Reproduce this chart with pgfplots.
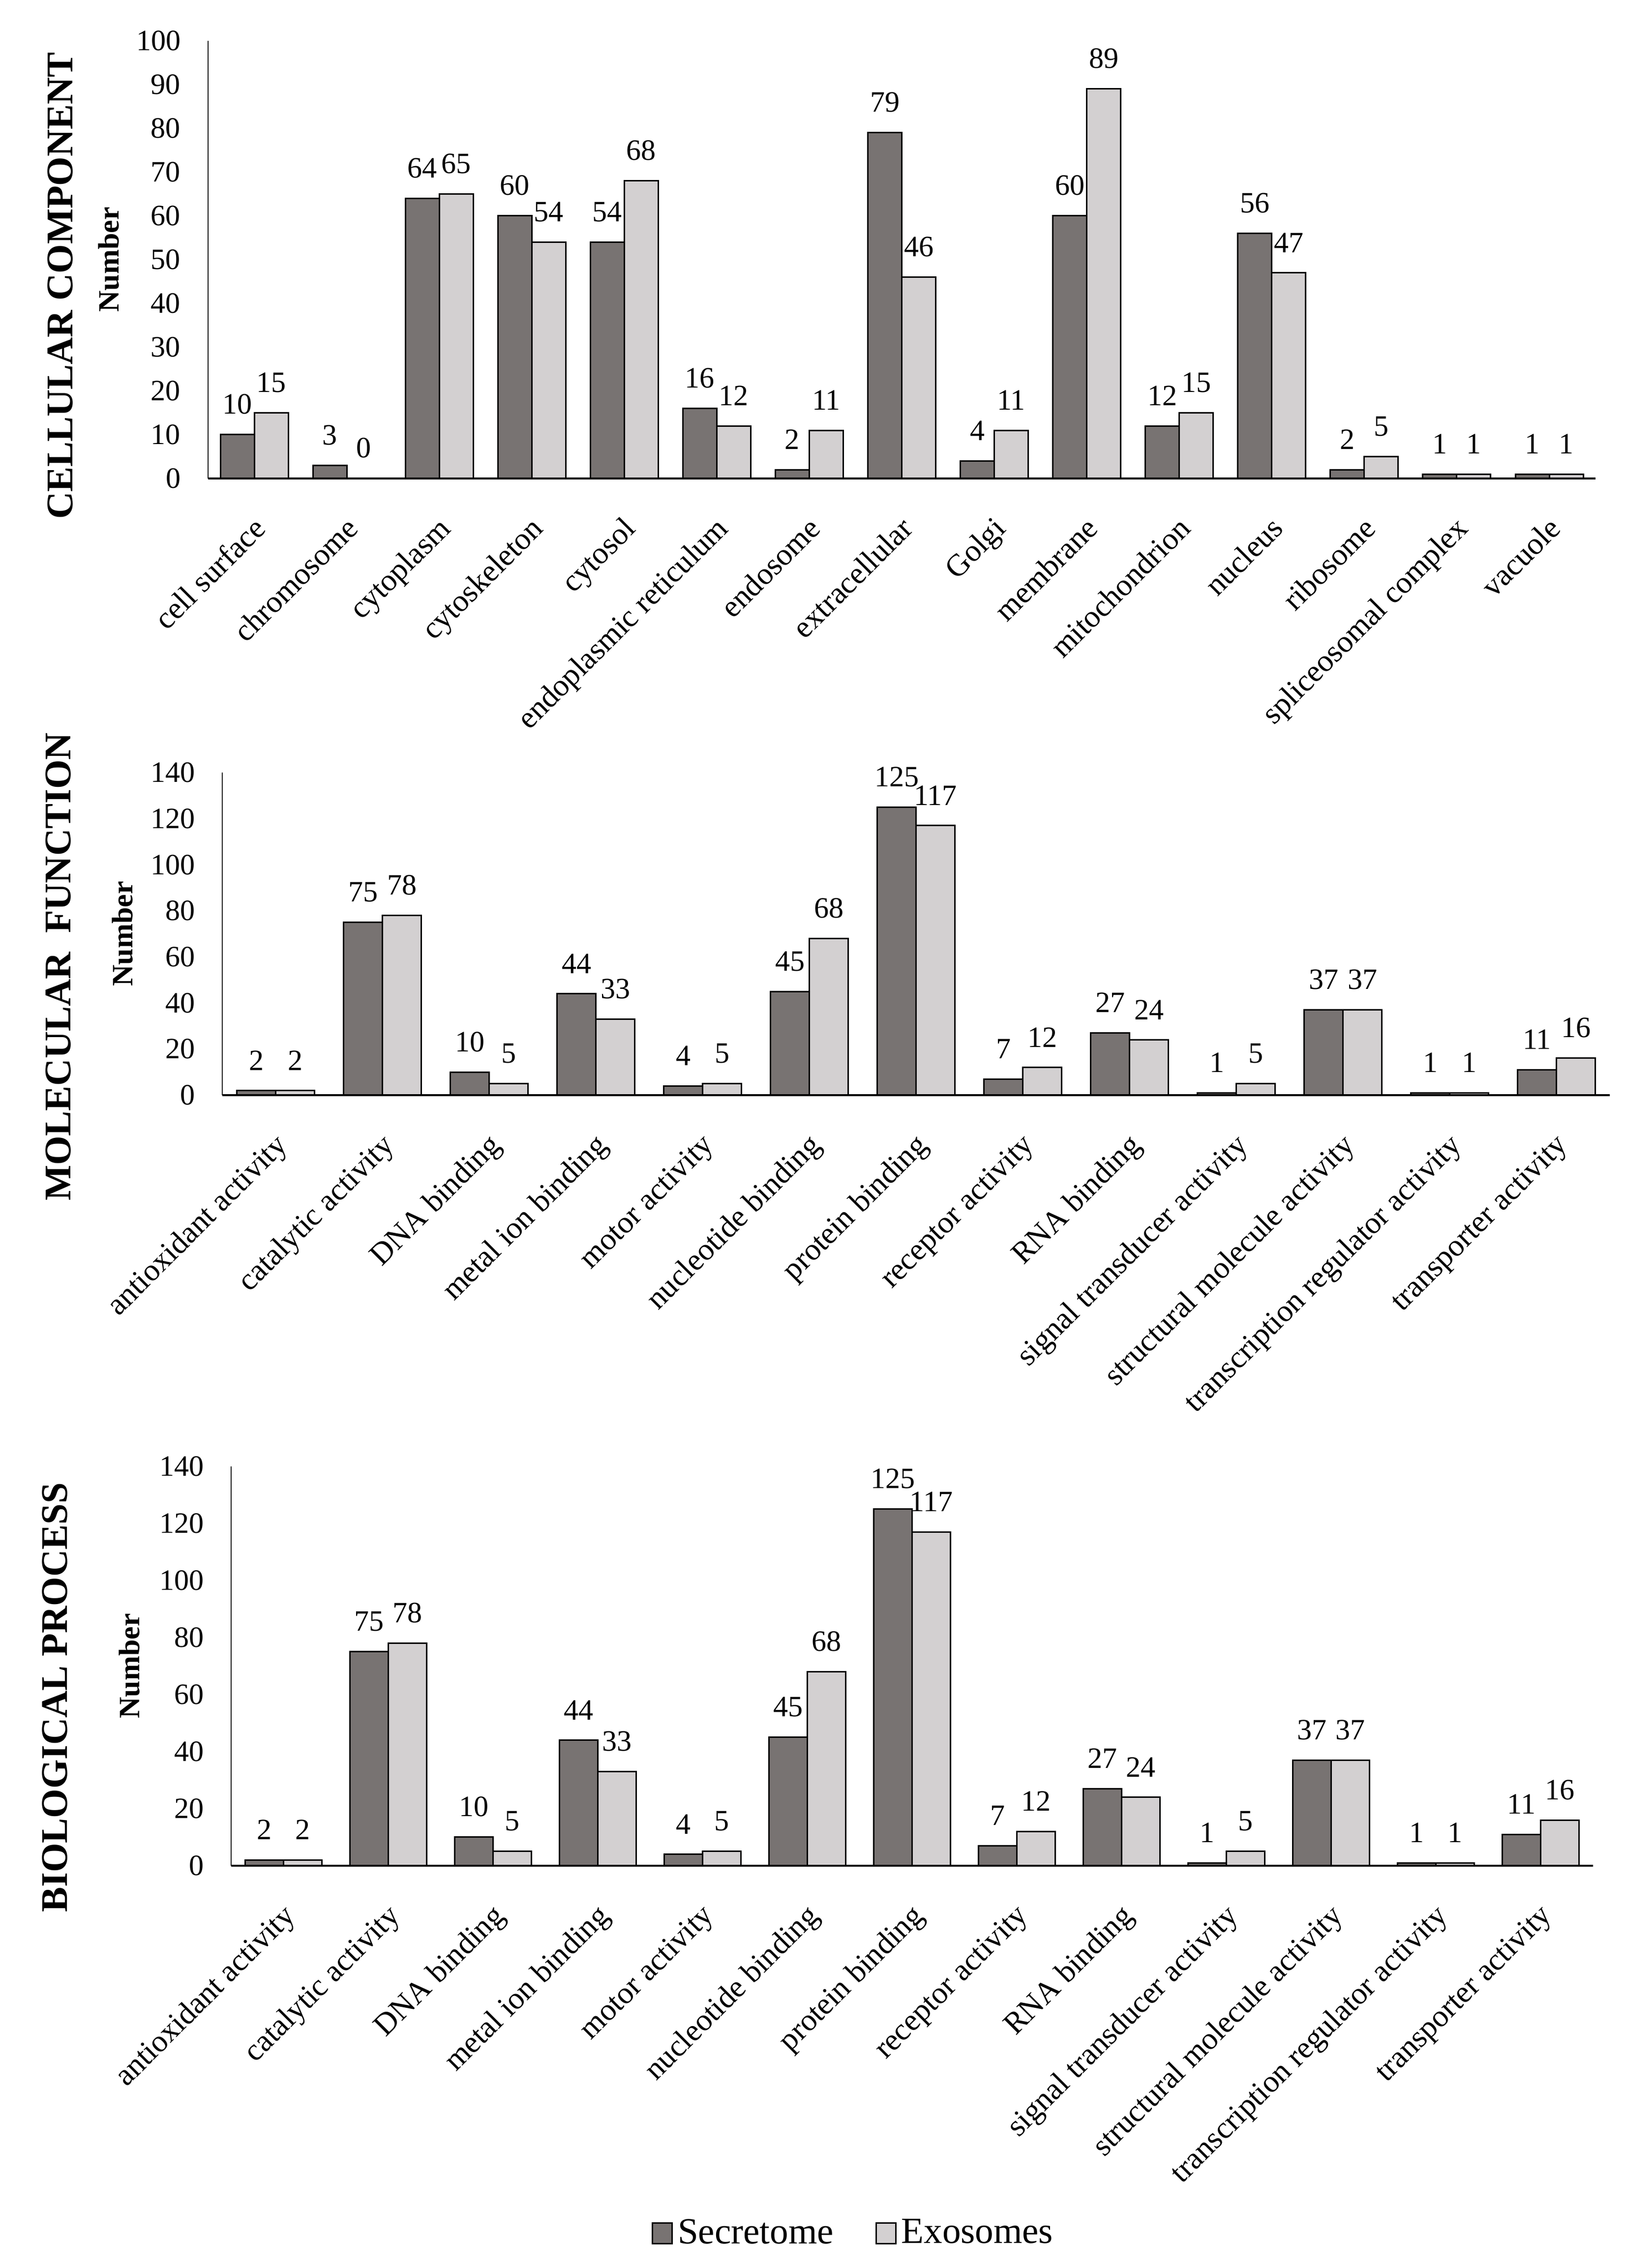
\documentclass[border=0pt]{standalone}
\usepackage{fontspec}
\setmainfont{Liberation Serif}
\usepackage{pgfplots}
\pgfplotsset{compat=1.18}
\definecolor{sec}{RGB}{120,115,114}
\definecolor{exo}{RGB}{211,208,209}
\newcommand{\fs}[1]{\fontsize{#1}{#1}\selectfont}
\pgfplotsset{
  gobar/.style={
    ybar=0pt, scale only axis, axis lines*=left, clip=false,
    x axis line style={line width=0.8pt}, y axis line style={line width=0.5pt},
    xtick style={draw=none}, ytick style={draw=none},
    /pgf/number format/assume math mode=true,
    yticklabel style={font=\fs{12}, inner sep=0pt, anchor=east, xshift=-11pt},
    xticklabel style={font=\fs{12.6}, inner sep=0pt, xshift=-1pt, yshift=-10.4pt, rotate=45, anchor=north east},
    ylabel={Number}, ylabel style={font=\bfseries\fs{12}, anchor=center},
    nodes near coords,
    every node near coord/.append style={font=\fs{12}, anchor=south, inner sep=0pt, yshift=8pt, text=black},
    ymin=0,
  },
  secbar/.style={fill=sec, draw=black, line width=0.6pt,
    legend image code/.code={\draw[fill=sec, draw=black, line width=0.6pt] (0pt,-4.2pt) rectangle (8pt,4.2pt);}},
  exobar/.style={fill=exo, draw=black, line width=0.6pt,
    legend image code/.code={\draw[fill=exo, draw=black, line width=0.6pt] (0pt,-4.2pt) rectangle (8pt,4.2pt);}},
}
\begin{document}
\begin{tikzpicture}
\path[use as bounding box] (0,0) rectangle (661pt,922.4pt);

% ---------- Cellular component ----------
\begin{axis}[gobar, at={(84.6pt,727.8pt)}, anchor=south west,
  width=564.2pt, height=178pt, bar width=13.8pt,
  xmin=-0.5, xmax=14.5, ymax=100, ytick={0,10,...,100},
  xtick={0,...,14},
  xticklabels={cell surface, chromosome, cytoplasm, cytoskeleton, cytosol, endoplasmic reticulum, endosome, extracellular, Golgi, membrane, mitochondrion, nucleus, ribosome, spliceosomal complex, vacuole},
  ylabel style={at={(axis description cs:-0.0716,0.5)}}]
\addplot[secbar] coordinates {(0,10) (1,3) (2,64) (3,60) (4,54) (5,16) (6,2) (7,79) (8,4) (9,60) (10,12) (11,56) (12,2) (13,1) (14,1)};
\addplot[exobar] coordinates {(0,15) (1,0) (2,65) (3,54) (4,68) (5,12) (6,11) (7,46) (8,11) (9,89) (10,15) (11,47) (12,5) (13,1) (14,1)};
\end{axis}
\node[rotate=90, font=\bfseries\fs{15.3}] at (24.6pt,806.2pt) {CELLULAR COMPONENT};

% ---------- Molecular function ----------
\begin{axis}[gobar, at={(90.4pt,477.0pt)}, anchor=south west,
  width=564.2pt, height=131.2pt, bar width=15.8pt,
  xmin=-0.5, xmax=12.5, ymax=140, ytick={0,20,...,140},
  xtick={0,...,12},
  xticklabels={antioxidant activity, catalytic activity, DNA binding, metal ion binding, motor activity, nucleotide binding, protein binding, receptor activity, RNA binding, signal transducer activity, structural molecule activity, transcription regulator activity, transporter activity},
  ylabel style={at={(axis description cs:-0.072,0.5)}}]
\addplot[secbar] coordinates {(0,2) (1,75) (2,10) (3,44) (4,4) (5,45) (6,125) (7,7) (8,27) (9,1) (10,37) (11,1) (12,11)};
\addplot[exobar] coordinates {(0,2) (1,78) (2,5) (3,33) (4,5) (5,68) (6,117) (7,12) (8,24) (9,5) (10,37) (11,1) (12,16)};
\end{axis}
\node[rotate=90, font=\bfseries\fs{15.3}] at (23.8pt,529.2pt) {MOLECULAR\ \ FUNCTION};

% ---------- Biological process ----------
\begin{axis}[gobar, at={(94pt,163.6pt)}, anchor=south west,
  width=553.8pt, height=162.4pt, bar width=15.6pt,
  xmin=-0.5, xmax=12.5, ymax=140, ytick={0,20,...,140},
  xtick={0,...,12},
  xticklabels={antioxidant activity, catalytic activity, DNA binding, metal ion binding, motor activity, nucleotide binding, protein binding, receptor activity, RNA binding, signal transducer activity, structural molecule activity, transcription regulator activity, transporter activity},
  ylabel style={at={(axis description cs:-0.0748,0.5)}},
  legend columns=2,
  legend style={at={(axis description cs:0.458,-0.92)}, anchor=center, draw=none,
    font=\fs{15}, /tikz/every even column/.append style={column sep=15pt}}]
\addplot[secbar] coordinates {(0,2) (1,75) (2,10) (3,44) (4,4) (5,45) (6,125) (7,7) (8,27) (9,1) (10,37) (11,1) (12,11)};
\addplot[exobar] coordinates {(0,2) (1,78) (2,5) (3,33) (4,5) (5,68) (6,117) (7,12) (8,24) (9,5) (10,37) (11,1) (12,16)};
\legend{Secretome, Exosomes}
\end{axis}
\node[rotate=90, font=\bfseries\fs{15.3}] at (22.4pt,232.0pt) {BIOLOGICAL PROCESS};
\end{tikzpicture}
\end{document}
